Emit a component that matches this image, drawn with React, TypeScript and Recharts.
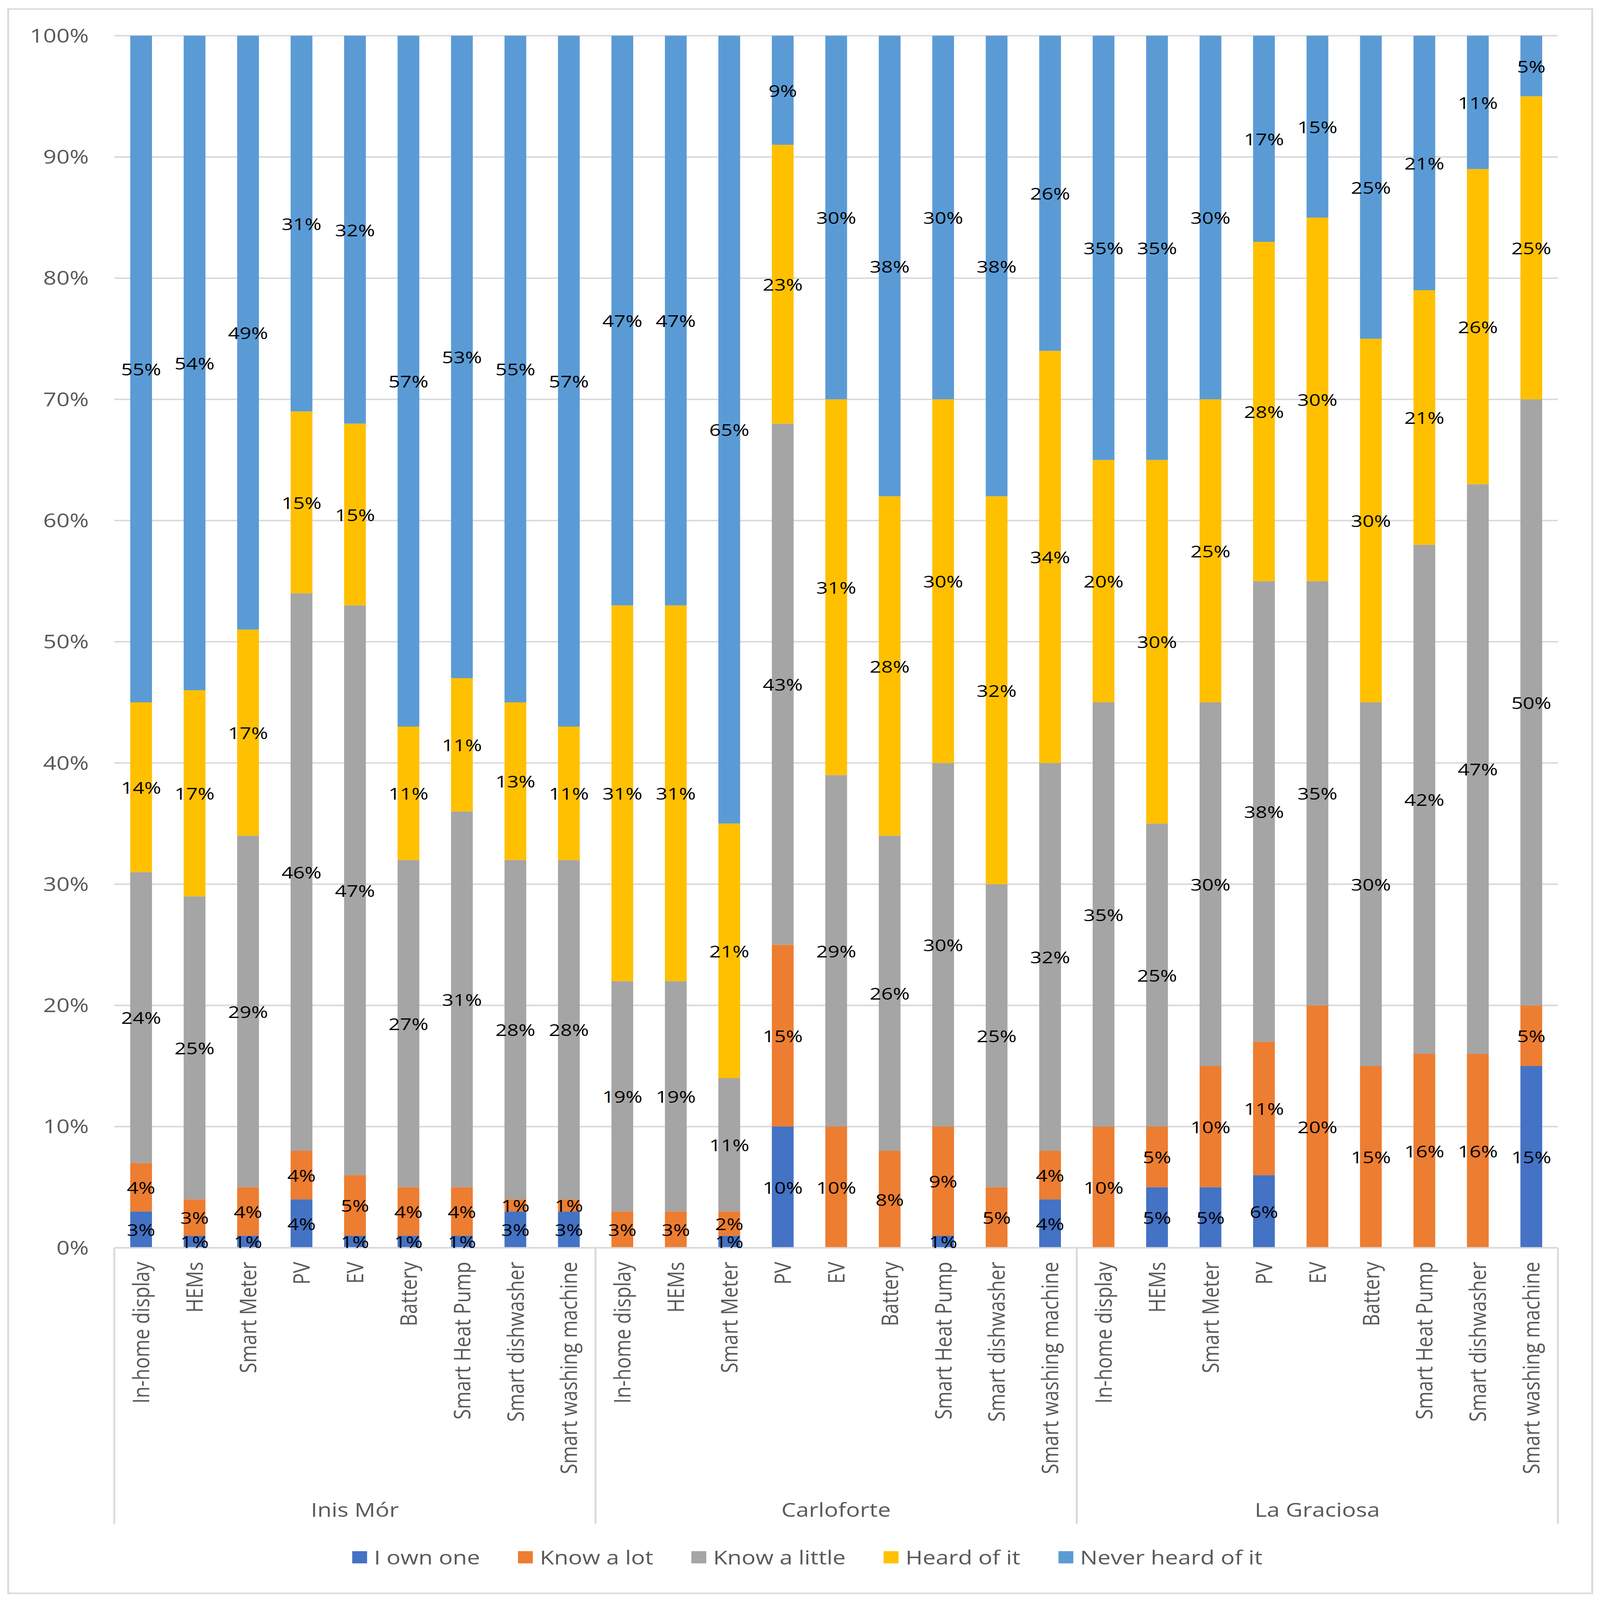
import React from 'react';
import { BarChart, Bar, XAxis, YAxis, CartesianGrid, Legend, LabelList } from 'recharts';

const FONT = '"Open Sans", "Noto Sans", sans-serif';
const AXIS_GREY = '#D9D9D9';
const TEXT_GREY = '#595959';

const groups = ['Inis Mór', 'Carloforte', 'La Graciosa'];
const devices = [
  'In-home display',
  'HEMs',
  'Smart Meter',
  'PV',
  'EV',
  'Battery',
  'Smart Heat Pump',
  'Smart dishwasher',
  'Smart washing machine',
];

// percentages, 9 devices per island in the order above
const ownOne = [3, 1, 1, 4, 1, 1, 1, 3, 3, 0, 0, 1, 10, 0, 0, 1, 0, 4, 0, 5, 5, 6, 0, 0, 0, 0, 15];
const knowALot = [4, 3, 4, 4, 5, 4, 4, 1, 1, 3, 3, 2, 15, 10, 8, 9, 5, 4, 10, 5, 10, 11, 20, 15, 16, 16, 5];
const knowALittle = [24, 25, 29, 46, 47, 27, 31, 28, 28, 19, 19, 11, 43, 29, 26, 30, 25, 32, 35, 25, 30, 38, 35, 30, 42, 47, 50];
const heardOfIt = [14, 17, 17, 15, 15, 11, 11, 13, 11, 31, 31, 21, 23, 31, 28, 30, 32, 34, 20, 30, 25, 28, 30, 30, 21, 26, 25];
const neverHeard = [55, 54, 49, 31, 32, 57, 53, 55, 57, 47, 47, 65, 9, 30, 38, 30, 38, 26, 35, 35, 30, 17, 15, 25, 21, 11, 5];

const yTicks = [0, 10, 20, 30, 40, 50, 60, 70, 80, 90, 100];

const seriesKeys = ['own', 'lot', 'little', 'heard', 'never'];
const seriesNames = ['I own one', 'Know a lot', 'Know a little', 'Heard of it', 'Never heard of it'];
const seriesColors = ['#4472C4', '#ED7D31', '#A5A5A5', '#FFC000', '#5B9BD5'];
const seriesValues = [ownOne, knowALot, knowALittle, heardOfIt, neverHeard];

const data = groups.flatMap((g, gi) =>
  devices.map((d, di) => {
    const i = gi * devices.length + di;
    const row: any = { key: `${g}|${d}`, device: d, group: g };
    seriesKeys.forEach((k, si) => {
      row[k] = seriesValues[si][i];
    });
    return row;
  })
);

const PAGE_W = 4411;
const PAGE_H = 5374;
const W = 4362;
const H = 5316;
const MARGIN = { top: 87, right: 92, bottom: 69, left: 62 };
const Y_WIDTH = 228;
const X_HEIGHT = 989;
const LEGEND_H = 100;
const PLOT_W = W - MARGIN.left - MARGIN.right - Y_WIDTH;

function CategoryTick(props: any) {
  const { x, y, payload } = props;
  const index = props.index ?? payload?.index ?? 0;
  const bw = payload && payload.offset ? payload.offset * 2 : PLOT_W / data.length;
  const n = devices.length;
  const pos = index % n;
  const gi = Math.floor(index / n);
  const ty = y + 47;
  return (
    <g>
      <text
        x={x}
        y={ty}
        transform={`rotate(-90, ${x}, ${ty})`}
        textAnchor="end"
        dy="0.36em"
        fill={TEXT_GREY}
        fontSize={64}
        fontFamily={FONT}
      >
        {data[index]?.device}
      </text>
      {pos === 0 && (
        <line x1={x - bw / 2} x2={x - bw / 2} y1={y} y2={y + 926} stroke={AXIS_GREY} strokeWidth={5} />
      )}
      {pos === n - 1 && (
        <line x1={x + bw / 2} x2={x + bw / 2} y1={y} y2={y + 926} stroke={AXIS_GREY} strokeWidth={5} />
      )}
      {pos === Math.floor(n / 2) && (
        <text
          x={x}
          y={y + 879}
          textAnchor="middle"
          dominantBaseline="central"
          fill={TEXT_GREY}
          fontSize={64}
          fontFamily={FONT}
        >
          {groups[gi]}
        </text>
      )}
    </g>
  );
}

const renderValueLabel = (p: any) => {
  const { x, y, width, height, value } = p;
  if (!value) return null;
  return (
    <text
      x={x + width / 2}
      y={y + height / 2}
      textAnchor="middle"
      dominantBaseline="central"
      fill="#000000"
      fontSize={56}
      fontFamily={FONT}
    >
      {`${value}%`}
    </text>
  );
};

// sy: vertical scale of the page; the legend box is measured after scaling,
// so its outer height is stretched to keep the measured height at LEGEND_H
const makeLegend = (sy: number) => (props: any) => {
  const payload = [...(props.payload || [])].sort(
    (a: any, b: any) => seriesNames.indexOf(a.value) - seriesNames.indexOf(b.value)
  );
  return (
    <div style={{ height: LEGEND_H / sy, display: 'flex', alignItems: 'flex-end' }}>
      <div
        style={{
          display: 'flex',
          justifyContent: 'center',
          alignItems: 'center',
          width: '100%',
          height: LEGEND_H,
          paddingLeft: 70,
          fontFamily: FONT,
          fontSize: 64,
          color: TEXT_GREY,
          whiteSpace: 'nowrap',
        }}
      >
        {payload.map((e: any, i: number) => (
          <div
            key={i}
            style={{ display: 'flex', alignItems: 'center', marginRight: i < payload.length - 1 ? 105 : 0 }}
          >
            <span style={{ width: 41, height: 41, background: e.color, marginRight: 19, display: 'inline-block' }} />
            <span>{e.value}</span>
          </div>
        ))}
      </div>
    </div>
  );
};

export default function App() {
  // the browser may give a smaller window than asked for; fit the page into it
  const vw = typeof window !== 'undefined' ? window.innerWidth : PAGE_W;
  const vh = typeof window !== 'undefined' ? window.innerHeight : PAGE_H;
  const sx = Math.min(1, vw / PAGE_W);
  const sy = Math.min(1, vh / PAGE_H);
  return (
    <div
      style={{
        position: 'relative',
        margin: -8,
        width: Math.floor(PAGE_W * sx),
        height: Math.floor(PAGE_H * sy),
        overflow: 'hidden',
        background: '#ffffff',
      }}
    >
      <div
        style={{
          position: 'absolute',
          left: 0,
          top: 0,
          width: PAGE_W,
          height: PAGE_H,
          transform: `scale(${sx}, ${sy})`,
          transformOrigin: '0 0',
          background: '#ffffff',
        }}
      >
        <div
          style={{
            position: 'absolute',
            left: 20,
            top: 28,
            width: W,
            height: H,
            border: `5px solid ${AXIS_GREY}`,
          }}
        >
          <BarChart width={W} height={H} data={data} margin={MARGIN} barSize={60}>
            <CartesianGrid vertical={false} stroke={AXIS_GREY} strokeWidth={5} />
            <XAxis
              dataKey="key"
              interval={0}
              height={X_HEIGHT}
              tickLine={false}
              tickSize={0}
              tickMargin={0}
              axisLine={{ stroke: AXIS_GREY, strokeWidth: 5 }}
              tick={(p: any) => <CategoryTick {...p} />}
            />
            <YAxis
              domain={[0, 100]}
              ticks={yTicks}
              interval={0}
              tickFormatter={(v: number) => `${v}%`}
              width={Y_WIDTH}
              axisLine={false}
              tickLine={false}
              tickSize={0}
              tickMargin={70}
              tick={{ fill: TEXT_GREY, fontSize: 64, fontFamily: FONT }}
            />
            <Legend verticalAlign="bottom" content={makeLegend(sy)} />
            {seriesKeys.map((k, i) => (
              <Bar
                key={k}
                dataKey={k}
                name={seriesNames[i]}
                stackId="a"
                fill={seriesColors[i]}
                isAnimationActive={false}
              >
                <LabelList dataKey={k} position="center" content={renderValueLabel} />
              </Bar>
            ))}
          </BarChart>
        </div>
      </div>
    </div>
  );
}
